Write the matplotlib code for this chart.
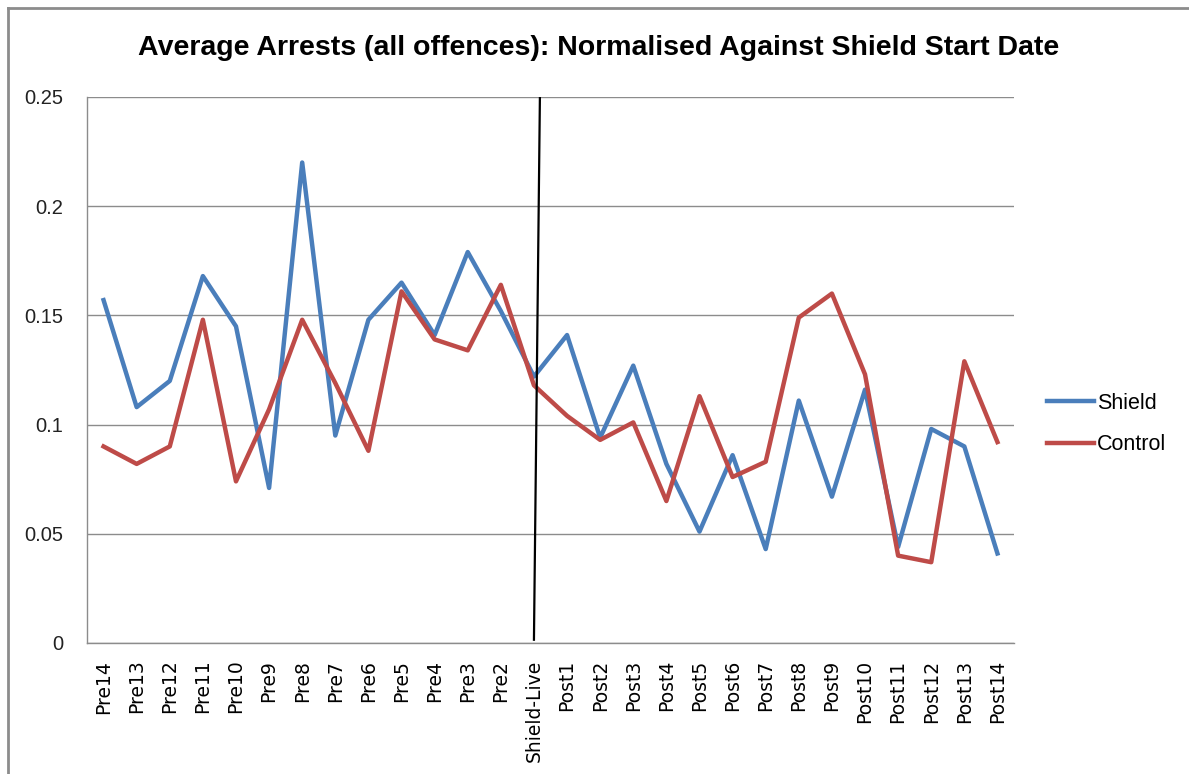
import matplotlib
matplotlib.use("Agg")
import matplotlib.pyplot as plt
from matplotlib.lines import Line2D

categories = ["Pre14", "Pre13", "Pre12", "Pre11", "Pre10", "Pre9", "Pre8", "Pre7",
              "Pre6", "Pre5", "Pre4", "Pre3", "Pre2", "Shield-Live", "Post1", "Post2",
              "Post3", "Post4", "Post5", "Post6", "Post7", "Post8", "Post9", "Post10",
              "Post11", "Post12", "Post13", "Post14"]

shield = [0.157, 0.108, 0.120, 0.168, 0.145, 0.071, 0.220, 0.095, 0.148, 0.165,
          0.141, 0.179, 0.152, 0.122, 0.141, 0.094, 0.127, 0.082, 0.051, 0.086,
          0.043, 0.111, 0.067, 0.116, 0.044, 0.098, 0.090, 0.041]

control = [0.090, 0.082, 0.090, 0.148, 0.074, 0.107, 0.148, 0.119, 0.088, 0.161,
           0.139, 0.134, 0.164, 0.118, 0.104, 0.093, 0.101, 0.065, 0.113, 0.076,
           0.083, 0.149, 0.160, 0.123, 0.040, 0.037, 0.129, 0.092]

yticks = [0, 0.05, 0.1, 0.15, 0.2, 0.25]
ytick_labels = ["0", "0.05", "0.1", "0.15", "0.2", "0.25"]

# the hand-drawn marker line at Shield-Live (slightly slanted)
marker_x = [13.18, 13.0]
marker_y = [0.25, 0.0015]

W, H = 1189, 774
fig = plt.figure(figsize=(W / 100, H / 100), dpi=100)
ax = fig.add_axes([87 / W, 1 - 643 / H, (1014 - 87) / W, (643 - 97) / H])

x = list(range(len(categories)))
ax.plot(x, shield, color="#4A7EBB", lw=3.2, label="Shield", solid_joinstyle="round")
ax.plot(x, control, color="#BE4B48", lw=3.2, label="Control", solid_joinstyle="round")
ax.plot(marker_x, marker_y, color="black", lw=1.6)

ax.set_xlim(-0.5, len(categories) - 0.5)
ax.set_ylim(0, 0.25)
ax.set_yticks(yticks)
ax.set_yticklabels(ytick_labels, fontsize=14.5, family="Liberation Sans", color="#222222")
ax.set_xticks(x)
ax.set_xticklabels(categories, rotation=90, fontsize=13.5, family="DejaVu Sans",
                   va="top", ha="center")
ax.tick_params(axis="x", length=0, pad=12)
ax.tick_params(axis="y", length=0, pad=17)
ax.yaxis.grid(True, color="#8c8c8c", lw=1.0)
ax.set_axisbelow(True)
for s in ["top", "right"]:
    ax.spines[s].set_visible(False)
for s in ["left", "bottom"]:
    ax.spines[s].set_color("#8c8c8c")
    ax.spines[s].set_linewidth(1.0)

fig.text(599 / W, 1 - 48 / H, "Average Arrests (all offences): Normalised Against Shield Start Date",
         ha="center", va="center", fontsize=20.5, fontweight="bold", family="Liberation Sans")

leg = fig.legend(loc="center left", bbox_to_anchor=(1047 / W, 1 - 424 / H), frameon=False,
                 prop={"family": "Liberation Sans", "size": 15.5}, handlelength=2.2,
                 handletextpad=0.12, labelspacing=0.95, borderpad=0, borderaxespad=0)

# outer chart border (left and top visible)
fig.add_artist(Line2D([8 / W, 8 / W], [0, 1 - 8 / H], color="#8c8c8c", lw=2.0,
                      transform=fig.transFigure))
fig.add_artist(Line2D([8 / W, 1], [1 - 8 / H, 1 - 8 / H], color="#8c8c8c", lw=2.0,
                      transform=fig.transFigure))

fig.savefig("out.png", dpi=100)
